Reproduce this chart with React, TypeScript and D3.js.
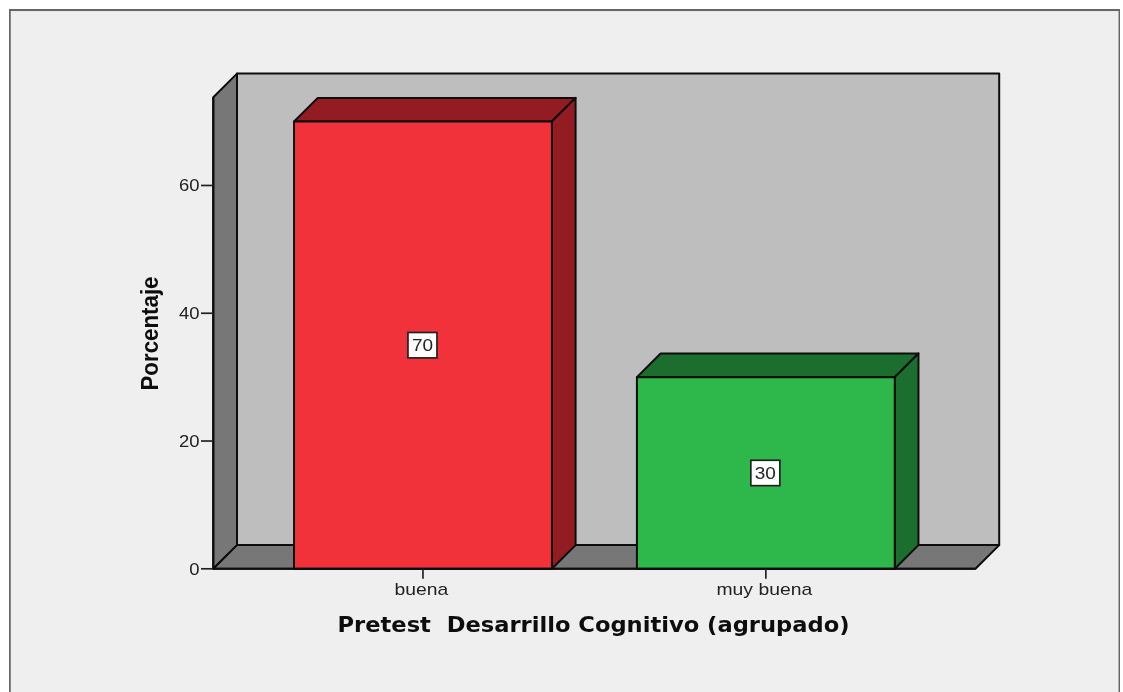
import React from "react";
import * as d3 from "d3";

const categories = ["buena", "muy buena"];
const percentages = [70, 30];
const yTicks = [0, 20, 40, 60];
const barColors = ["#f2333b", "#2eb84b"];
const barSideColors = ["#931e22", "#1c6e2e"];
const yAxisTitle = "Porcentaje";
const xAxisTitle = "Pretest  Desarrillo Cognitivo (agrupado)";

const W = 1123;
const H = 692;
const depth = 23.7;
const y = d3.scaleLinear().domain([0, 73.8]).range([568.8, 97.3]);
const x0 = 213.3;
const x1 = 975.5;
const x = d3.scaleBand<string>().domain(categories).range([x0, x1]).paddingInner(0.248).paddingOuter(0.2355);
const yBase = y(0);
const yTop = y.range()[1];

const poly = (pts: [number, number][]) => d3.line()(pts) + "Z";
const font = "'DejaVu Sans', sans-serif";
const labelFont = "'Liberation Sans', sans-serif";
const edge = { stroke: "#0c0c0c", strokeWidth: 2, strokeLinejoin: "round" as const };

export default function App() {
  return (
    <svg width={W} height={H} viewBox={`0 0 ${W} ${H}`} style={{ position: "absolute", left: 0, top: 0, background: "#fff" }}>
      <defs>
        <filter id="soft" x="0" y="0" width="100%" height="100%">
          <feGaussianBlur stdDeviation="0.4" />
        </filter>
      </defs>
      <g filter="url(#soft)">
        <rect x={9.5} y={9.8} width={1110.3} height={H + 20} fill="#efefef" stroke="#666" strokeWidth={2.5} />
        {/* walls */}
        <path d={poly([[x0 + depth, yTop - depth], [x1 + depth, yTop - depth], [x1 + depth, yBase - depth], [x0 + depth, yBase - depth]])} fill="#bebebe" {...edge} />
        <path d={poly([[x0, yTop], [x0 + depth, yTop - depth], [x0 + depth, yBase - depth], [x0, yBase]])} fill="#777777" {...edge} />
        <path d={poly([[x0, yBase], [x0 + depth, yBase - depth], [x1 + depth, yBase - depth], [x1, yBase]])} fill="#777777" {...edge} />
        {/* bars */}
        {categories.map((c, i) => {
          const l = x(c)!;
          const r = l + x.bandwidth();
          const t = y(percentages[i]);
          return (
            <g key={c}>
              <path d={poly([[l, t], [l + depth, t - depth], [r + depth, t - depth], [r, t]])} fill={barSideColors[i]} {...edge} />
              <path d={poly([[r, t], [r + depth, t - depth], [r + depth, yBase - depth], [r, yBase]])} fill={barSideColors[i]} {...edge} />
              <rect x={l} y={t} width={r - l} height={yBase - t} fill={barColors[i]} {...edge} />
            </g>
          );
        })}
        {/* axes */}
        <line x1={x0} x2={x1} y1={yBase} y2={yBase} {...edge} />
        <line x1={x0} x2={x0} y1={yTop} y2={yBase} {...edge} />
        {yTicks.map((t) => (
          <g key={t}>
            <line x1={201} x2={x0} y1={y(t)} y2={y(t)} stroke="#222" strokeWidth={1.7} />
            <text transform={`translate(199.5,${y(t) + 6}) scale(1.12,1)`} textAnchor="end" fontFamily={labelFont} fontSize={16.5} fill="#222">{t}</text>
          </g>
        ))}
        {categories.map((c) => {
          const cx = x(c)! + x.bandwidth() / 2;
          return (
            <g key={c}>
              <line x1={cx} x2={cx} y1={yBase} y2={yBase + 10} stroke="#222" strokeWidth={1.7} />
              <text transform={`translate(${cx - 1.5},${yBase + 26}) scale(1.21,1)`} textAnchor="middle" fontFamily={labelFont} fontSize={16} fill="#222">{c}</text>
            </g>
          );
        })}
        {/* value labels */}
        {categories.map((c, i) => {
          const cx = x(c)! + x.bandwidth() / 2 - 0.5;
          const cy = y(percentages[i] / 2);
          return (
            <g key={c}>
              <rect x={cx - 14.5} y={cy - 12.7} width={29} height={25.4} fill="#fff" stroke="#222" strokeWidth={1.7} />
              <text transform={`translate(${cx},${cy + 6}) scale(1.15,1)`} textAnchor="middle" fontFamily={labelFont} fontSize={16.5} fill="#222">{percentages[i]}</text>
            </g>
          );
        })}
        {/* titles */}
        <text transform="translate(158,333.5) rotate(-90)" textAnchor="middle" fontFamily={labelFont} fontWeight="bold" fontSize={24} fill="#111" textLength={114} lengthAdjust="spacingAndGlyphs">{yAxisTitle}</text>
        <text x={593.5} y={631.7} textAnchor="middle" fontFamily={font} fontWeight="bold" fontSize={20.5} fill="#111" textLength={512} lengthAdjust="spacingAndGlyphs" xmlSpace="preserve">{xAxisTitle}</text>
      </g>
    </svg>
  );
}
